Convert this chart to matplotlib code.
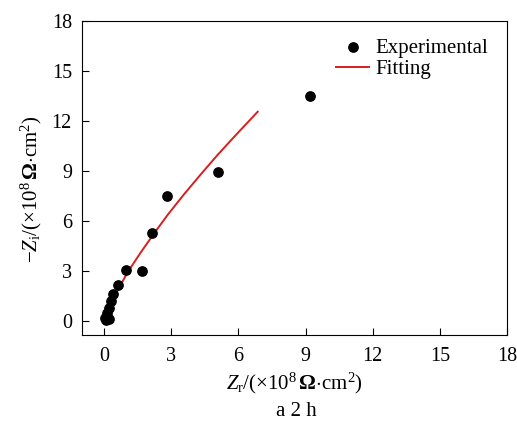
import matplotlib.pyplot as plt

plt.rcParams['font.family'] = 'Liberation Serif'
plt.rcParams['mathtext.fontset'] = 'custom'
plt.rcParams['mathtext.rm'] = 'Liberation Serif'
plt.rcParams['mathtext.it'] = 'Liberation Serif:italic'
plt.rcParams['mathtext.bf'] = 'Liberation Serif:bold'

# experimental points (x 1e8 ohm cm^2)
zr_exp = [9.19, 5.09, 2.81, 2.13, 0.96, 1.69, 0.6, 0.4, 0.29, 0.2, 0.12, 0.04, 0.22, 0.08]
zi_exp = [13.5, 8.9, 7.5, 5.24, 3.02, 2.96, 2.16, 1.6, 1.16, 0.74, 0.44, 0.14, 0.12, 0.04]

# fitted curve
zr_fit = [0.0, 0.1, 0.22, 0.6, 1.05, 1.64, 2.24, 2.84, 3.58, 4.33, 5.07, 5.82, 6.86]
zi_fit = [0.05, 0.45, 0.8, 1.8, 2.9, 4.1, 5.25, 6.35, 7.6, 8.8, 9.95, 11.05, 12.54]

fig = plt.figure(figsize=(5.17, 4.24), dpi=100)
ax = fig.add_axes([0.158, 0.210, 0.823, 0.741])

ax.scatter(zr_exp, zi_exp, s=45, color='black', zorder=3, label='Experimental')
ax.plot(zr_fit, zi_fit, color='#d81e1e', lw=1.4, label='Fitting')

ax.set_xlim(-1, 18)
ax.set_ylim(-0.86, 18)
ax.set_xticks(range(0, 19, 3))
ax.set_yticks(range(0, 19, 3))
ax.tick_params(direction='in', length=5, labelsize=14.5)
ax.tick_params(axis='x', pad=9)
ax.tick_params(axis='y', pad=7)

ax.set_xlabel(r'$Z_{\mathrm{r}}/(\times10^{8}\,\mathbf{\Omega}{\cdot}\mathrm{cm}^{2})$', fontsize=15)
ax.xaxis.set_label_coords(0.5, -0.115)
ax.set_ylabel(r'$-Z_{\mathrm{i}}/(\times10^{8}\,\mathbf{\Omega}{\cdot}\mathrm{cm}^{2})$', fontsize=15)
ax.yaxis.set_label_coords(-0.088, 0.465)
fig.text(0.573, 0.02, 'a 2 h', ha='center', fontsize=15)

ax.legend(loc='upper right', bbox_to_anchor=(0.985, 0.985), frameon=False, fontsize=15,
          handlelength=1.6, handletextpad=0.3, borderaxespad=0.2, labelspacing=0.1)

fig.savefig('out.png', dpi=100)
